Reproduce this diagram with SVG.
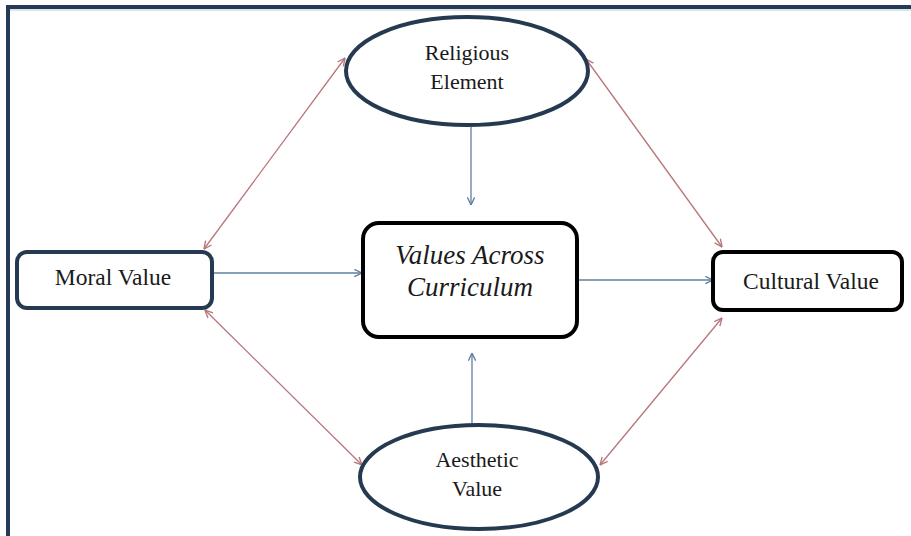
<svg xmlns="http://www.w3.org/2000/svg" width="911" height="536" viewBox="0 0 911 536">
<style>
.t{font-family:"Liberation Serif","Times New Roman",serif;font-size:22px;fill:#1a1a1a;text-anchor:middle}
.tb{font-size:23.5px}
.ti{font-family:"Liberation Serif","Times New Roman",serif;font-size:27px;font-style:italic;fill:#1a1a1a;text-anchor:middle}
.ell{fill:#fff;stroke:#253a50;stroke-width:4}
.nb{fill:#fff;stroke:#253a50;stroke-width:4}
.bb{fill:#fff;stroke:#000;stroke-width:4}
.blue{stroke:#5f7f9f;stroke-width:1.3;fill:none}
.red{stroke:#b8767a;stroke-width:1.3;fill:none}
</style>
<defs>
<marker id="ab" viewBox="0 0 10 10" refX="9.5" refY="5" markerWidth="9" markerHeight="9" markerUnits="userSpaceOnUse" orient="auto-start-reverse">
<path d="M1,1 L9.5,5 L1,9" fill="none" stroke="#5f7f9f" stroke-width="1.5"/>
</marker>
<marker id="ar" viewBox="0 0 10 10" refX="9.5" refY="5" markerWidth="9" markerHeight="9" markerUnits="userSpaceOnUse" orient="auto-start-reverse">
<path d="M1,1 L9.5,5 L1,9" fill="none" stroke="#b8767a" stroke-width="1.5"/>
</marker>
</defs>
<rect x="0" y="0" width="911" height="536" fill="#fff"/>
<g id="frame">
<rect x="6" y="5" width="905" height="4" fill="#253a55"/>
<rect x="6" y="5" width="4" height="531" fill="#253a55"/>
<line x1="10" y1="10" x2="911" y2="10" stroke="#b8c8d8" stroke-width="1"/>
</g>
<g id="connectors">
<line class="blue" x1="471" y1="127" x2="471" y2="205" marker-end="url(#ab)"/>
<line class="blue" x1="472" y1="424" x2="472" y2="353" marker-end="url(#ab)"/>
<line class="blue" x1="212" y1="273" x2="362" y2="273" marker-end="url(#ab)"/>
<line class="blue" x1="577" y1="280" x2="713" y2="280" marker-end="url(#ab)"/>
<line class="red" x1="345" y1="58" x2="204" y2="249" marker-start="url(#ar)" marker-end="url(#ar)"/>
<line class="red" x1="586" y1="59" x2="722" y2="247" marker-start="url(#ar)" marker-end="url(#ar)"/>
<line class="red" x1="205" y1="310" x2="362" y2="465" marker-start="url(#ar)" marker-end="url(#ar)"/>
<line class="red" x1="600" y1="465" x2="722" y2="318" marker-start="url(#ar)" marker-end="url(#ar)"/>
</g>
<g id="religious">
<ellipse class="ell" cx="467" cy="71" rx="121" ry="54"/>
<text class="t" x="467" y="60">Religious</text>
<text class="t" x="467" y="89">Element</text>
</g>
<g id="moral">
<rect class="nb" x="17" y="252" width="195" height="56" rx="10"/>
<text class="t tb" x="113" y="285">Moral Value</text>
</g>
<g id="center">
<rect class="bb" x="363" y="223" width="214" height="114" rx="16"/>
<text class="ti" x="470" y="264">Values Across</text>
<text class="ti" x="470" y="296">Curriculum</text>
</g>
<g id="cultural">
<rect class="bb" x="713" y="252" width="189" height="58" rx="10"/>
<text class="t tb" x="811" y="289">Cultural Value</text>
</g>
<g id="aesthetic">
<ellipse class="ell" cx="479" cy="477" rx="119" ry="52"/>
<text class="t" x="477" y="467">Aesthetic</text>
<text class="t" x="477" y="496">Value</text>
</g>
</svg>
